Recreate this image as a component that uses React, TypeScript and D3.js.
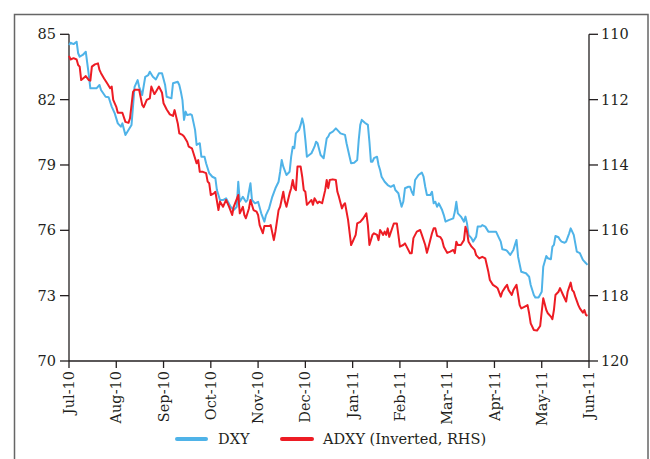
import React from "react";
import * as d3 from "d3";

const dxyDates = ["2010-07-01","2010-07-02","2010-07-04","2010-07-06","2010-07-07","2010-07-08","2010-07-10","2010-07-12","2010-07-13","2010-07-14","2010-07-15","2010-07-19","2010-07-21","2010-07-22","2010-07-25","2010-07-27","2010-07-29","2010-07-31",
"2010-08-02","2010-08-04","2010-08-05","2010-08-07","2010-08-09","2010-08-11","2010-08-13","2010-08-15","2010-08-16","2010-08-18","2010-08-20","2010-08-22","2010-08-23","2010-08-25","2010-08-27","2010-08-29","2010-08-31",
"2010-09-02","2010-09-03","2010-09-06","2010-09-07","2010-09-10","2010-09-11","2010-09-12","2010-09-13","2010-09-14","2010-09-15","2010-09-16","2010-09-18","2010-09-19","2010-09-21","2010-09-22","2010-09-24","2010-09-25","2010-09-27","2010-09-28","2010-09-30",
"2010-10-02","2010-10-04","2010-10-05","2010-10-07","2010-10-09","2010-10-11","2010-10-14","2010-10-16","2010-10-18","2010-10-19","2010-10-20","2010-10-22","2010-10-24","2010-10-25","2010-10-27","2010-10-28","2010-10-30",
"2010-11-01","2010-11-03","2010-11-05","2010-11-06","2010-11-08","2010-11-10","2010-11-12","2010-11-14","2010-11-15","2010-11-16","2010-11-17","2010-11-19","2010-11-21","2010-11-22","2010-11-23","2010-11-24","2010-11-25","2010-11-27","2010-11-28","2010-11-29","2010-11-30",
"2010-12-01","2010-12-02","2010-12-05","2010-12-07","2010-12-08","2010-12-09","2010-12-11","2010-12-13","2010-12-15","2010-12-16","2010-12-17","2010-12-19","2010-12-21","2010-12-23","2010-12-24","2010-12-27","2010-12-28","2010-12-30","2010-12-31",
"2011-01-02","2011-01-04","2011-01-05","2011-01-06","2011-01-07","2011-01-09","2011-01-11","2011-01-12","2011-01-13","2011-01-14","2011-01-15","2011-01-17","2011-01-18","2011-01-19","2011-01-20","2011-01-22","2011-01-24","2011-01-26","2011-01-28","2011-01-29","2011-01-31",
"2011-02-01","2011-02-02","2011-02-03","2011-02-04","2011-02-06","2011-02-07","2011-02-08","2011-02-09","2011-02-10","2011-02-12","2011-02-14","2011-02-15","2011-02-16","2011-02-17","2011-02-19","2011-02-20","2011-02-21","2011-02-22","2011-02-23","2011-02-24","2011-02-26","2011-02-27","2011-02-28",
"2011-03-02","2011-03-05","2011-03-06","2011-03-07","2011-03-08","2011-03-10","2011-03-12","2011-03-13","2011-03-14","2011-03-15","2011-03-17","2011-03-18","2011-03-20","2011-03-21","2011-03-23","2011-03-24","2011-03-26","2011-03-28","2011-03-30",
"2011-04-02","2011-04-04","2011-04-05","2011-04-06","2011-04-08","2011-04-09","2011-04-11","2011-04-13","2011-04-14","2011-04-15","2011-04-16","2011-04-18","2011-04-20","2011-04-21","2011-04-23","2011-04-24","2011-04-26","2011-04-27","2011-04-29",
"2011-05-01","2011-05-02","2011-05-04","2011-05-05","2011-05-07","2011-05-08","2011-05-09","2011-05-10","2011-05-12","2011-05-13","2011-05-14","2011-05-16","2011-05-17","2011-05-19","2011-05-20","2011-05-21","2011-05-22","2011-05-24","2011-05-26","2011-05-28","2011-05-30","2011-05-31"];

const dxyValues = [84.51,84.61,84.55,84.66,84.13,83.97,84.05,84.20,83.67,83.13,82.52,82.52,82.67,82.44,82.13,82.11,81.68,81.37,
80.91,80.76,80.91,80.38,80.61,80.84,82.59,82.90,82.59,82.21,83.05,83.13,83.28,83.05,82.93,83.21,83.21,
82.67,82.13,82.06,82.75,82.82,82.67,82.36,81.98,81.07,81.45,81.29,81.33,81.29,80.61,79.92,80.00,79.38,79.38,79.08,78.62,
78.46,78.39,77.85,77.39,77.39,77.47,77.08,76.93,77.08,78.23,77.31,77.54,77.31,77.39,78.16,77.39,77.24,
77.31,76.78,76.40,76.70,77.01,77.54,77.93,78.23,78.69,79.23,78.92,78.54,78.69,79.38,79.84,79.77,80.45,80.61,80.84,81.14,80.84,
80.15,79.38,79.54,79.84,80.07,80.00,79.46,79.31,80.22,80.30,80.45,80.53,80.68,80.53,80.45,80.38,80.00,79.38,79.08,
79.10,79.23,80.15,80.84,81.07,80.94,80.84,80.07,79.15,79.15,79.31,79.38,79.00,78.77,78.46,78.23,78.08,78.00,78.08,77.85,77.70,
77.39,77.08,77.31,77.93,78.00,78.00,77.77,77.62,78.31,78.54,78.65,78.46,78.00,77.62,77.62,77.77,77.24,77.31,77.08,77.24,76.93,76.70,76.40,
76.47,76.55,76.85,77.31,76.78,76.63,76.40,76.63,76.32,75.79,75.63,75.48,75.71,76.17,76.17,76.24,76.17,75.94,75.94,
75.94,75.63,75.48,75.13,75.10,75.06,74.87,75.10,75.33,75.56,74.79,74.10,74.05,74.03,73.87,73.49,73.03,72.91,72.92,
73.18,74.33,74.82,74.72,74.67,75.25,75.33,75.74,75.68,75.56,75.48,75.43,75.48,75.86,76.09,75.94,75.79,75.02,74.95,74.64,74.49,74.41];

const adxyDates = ["2010-07-01","2010-07-02","2010-07-04","2010-07-06","2010-07-07","2010-07-08","2010-07-09","2010-07-11","2010-07-12","2010-07-14","2010-07-15","2010-07-16","2010-07-18","2010-07-20","2010-07-21","2010-07-22","2010-07-24","2010-07-26","2010-07-28","2010-07-29","2010-07-30",
"2010-08-01","2010-08-02","2010-08-05","2010-08-07","2010-08-09","2010-08-10","2010-08-12","2010-08-13","2010-08-16","2010-08-18","2010-08-19","2010-08-21","2010-08-23","2010-08-24","2010-08-26","2010-08-27","2010-08-29","2010-08-31",
"2010-09-01","2010-09-03","2010-09-05","2010-09-07","2010-09-08","2010-09-09","2010-09-10","2010-09-11","2010-09-13","2010-09-14","2010-09-16","2010-09-17","2010-09-19","2010-09-20","2010-09-22","2010-09-23","2010-09-24","2010-09-26","2010-09-28","2010-09-29","2010-09-30",
"2010-10-01","2010-10-03","2010-10-04","2010-10-06","2010-10-07","2010-10-09","2010-10-11","2010-10-13","2010-10-15","2010-10-16","2010-10-19","2010-10-20","2010-10-22","2010-10-23","2010-10-24","2010-10-26","2010-10-27","2010-10-29","2010-10-31",
"2010-11-01","2010-11-02","2010-11-04","2010-11-05","2010-11-08","2010-11-09","2010-11-11","2010-11-12","2010-11-14","2010-11-15","2010-11-17","2010-11-18","2010-11-19","2010-11-20","2010-11-21","2010-11-22","2010-11-23","2010-11-24","2010-11-25","2010-11-26","2010-11-28","2010-11-29","2010-11-30",
"2010-12-01","2010-12-02","2010-12-04","2010-12-05","2010-12-06","2010-12-07","2010-12-09","2010-12-10","2010-12-12","2010-12-14","2010-12-15","2010-12-16","2010-12-17","2010-12-19","2010-12-21","2010-12-22","2010-12-23","2010-12-25","2010-12-26","2010-12-27","2010-12-29","2010-12-31",
"2011-01-01","2011-01-03","2011-01-04","2011-01-06","2011-01-08","2011-01-10","2011-01-11","2011-01-12","2011-01-14","2011-01-15","2011-01-17","2011-01-18","2011-01-19","2011-01-21","2011-01-22","2011-01-23","2011-01-24","2011-01-25","2011-01-28","2011-01-30","2011-01-31",
"2011-02-01","2011-02-03","2011-02-04","2011-02-05","2011-02-07","2011-02-08","2011-02-09","2011-02-11","2011-02-13","2011-02-14","2011-02-16","2011-02-17","2011-02-18","2011-02-20","2011-02-21","2011-02-22","2011-02-23","2011-02-25","2011-02-26","2011-02-27",
"2011-03-01","2011-03-03","2011-03-05","2011-03-06","2011-03-07","2011-03-08","2011-03-10","2011-03-12","2011-03-13","2011-03-14","2011-03-15","2011-03-17","2011-03-19","2011-03-20","2011-03-22","2011-03-24","2011-03-26","2011-03-28","2011-03-29","2011-03-31",
"2011-04-02","2011-04-03","2011-04-05","2011-04-06","2011-04-08","2011-04-09","2011-04-10","2011-04-12","2011-04-13","2011-04-15","2011-04-16","2011-04-17","2011-04-18","2011-04-20","2011-04-22","2011-04-23","2011-04-24","2011-04-26","2011-04-28","2011-04-30",
"2011-05-01","2011-05-02","2011-05-04","2011-05-05","2011-05-07","2011-05-08","2011-05-09","2011-05-10","2011-05-12","2011-05-13","2011-05-15","2011-05-17","2011-05-18","2011-05-20","2011-05-21","2011-05-22","2011-05-23","2011-05-25","2011-05-26","2011-05-28","2011-05-29","2011-05-30","2011-05-31"];

const adxyValues = [110.66,110.77,110.73,110.77,110.94,110.99,111.40,111.32,111.28,111.40,111.42,110.99,110.92,110.89,111.09,111.19,111.35,111.50,111.65,111.60,112.01,
112.22,112.40,112.40,112.68,112.71,112.57,111.76,111.70,111.70,112.16,112.23,112.01,111.96,111.60,111.83,111.76,111.60,111.79,
112.11,112.30,112.45,112.50,112.32,112.52,112.72,113.03,113.08,113.13,113.29,113.44,113.49,113.64,113.95,113.85,114.21,114.21,114.25,114.51,114.56,
114.92,114.87,114.82,115.38,115.12,115.28,115.07,115.28,115.53,115.28,114.92,115.48,115.28,115.53,115.63,115.33,115.07,115.38,115.43,
115.53,115.84,116.09,115.87,115.87,115.84,116.30,116.04,115.38,115.28,114.82,115.12,115.28,115.07,114.87,114.71,114.46,114.71,114.77,114.05,114.05,114.36,114.77,
114.82,115.22,115.12,115.07,115.22,115.02,115.17,115.12,115.17,114.77,114.46,114.71,114.46,114.44,114.46,114.82,114.97,115.33,115.22,115.17,115.68,116.45,
116.35,116.14,115.79,115.74,115.63,115.48,115.84,116.45,116.14,116.09,116.14,116.30,115.99,116.14,116.04,116.14,115.94,116.20,115.79,115.79,116.14,
116.50,116.45,116.40,116.50,116.70,116.70,116.24,116.04,115.99,116.14,116.45,116.69,116.50,116.09,115.94,115.94,116.17,116.21,116.30,116.50,
116.69,116.65,116.60,116.70,116.35,116.45,116.45,116.30,115.89,116.04,116.35,116.50,116.60,116.76,116.86,116.81,116.86,117.27,117.52,117.67,
117.73,117.77,118.03,117.88,117.73,117.67,117.83,117.98,117.83,117.67,117.98,118.29,118.39,118.34,118.29,118.54,118.85,119.05,119.07,118.93,
118.49,118.08,118.44,118.54,118.64,118.72,118.44,117.98,117.88,117.77,117.98,118.18,117.88,117.60,117.83,117.88,118.03,118.29,118.39,118.52,118.44,118.59,118.62];

const leftTicks = [70, 73, 76, 79, 82, 85];
const rightTicks = [110, 112, 114, 116, 118, 120];
const seriesNames = ["DXY", "ADXY (Inverted, RHS)"];
const seriesColors = ["#4fb3e8", "#ed1c24"];

const FONT = "'DejaVu Serif', serif";

export default function App() {
  const parse = d3.timeParse("%Y-%m-%d");
  const start = new Date(2010, 6, 1);
  const end = new Date(2011, 5, 1);
  const months = d3.timeMonth.range(start, d3.timeDay.offset(end, 1));
  const monthPos = (d: Date) => {
    const m0 = d3.timeMonth.floor(d);
    const m1 = d3.timeMonth.offset(m0, 1);
    return d3.timeMonth.count(start, m0) + (+d - +m0) / (+m1 - +m0);
  };

  const left = 69, right = 589, top = 34.3, bottom = 361;
  const x = d3.scaleLinear().domain([0, months.length - 1]).range([left, right]);
  const yL = d3.scaleLinear().domain([70, 85]).range([bottom, top]);
  const yR = d3.scaleLinear().domain([120, 110]).range([bottom, top]);

  const dxy = dxyDates.map((s, i) => ({ d: parse(s) as Date, v: dxyValues[i] }));
  const adxy = adxyDates.map((s, i) => ({ d: parse(s) as Date, v: adxyValues[i] }));

  const lineL = d3.line<{ d: Date; v: number }>().x(p => x(monthPos(p.d))).y(p => yL(p.v));
  const lineR = d3.line<{ d: Date; v: number }>().x(p => x(monthPos(p.d))).y(p => yR(p.v));
  const fmt = d3.timeFormat("%b-%y");
  const axisColor = "#231f20";

  return (
    <svg width={650} height={459} style={{ position: "absolute", left: 0, top: 0, background: "#fff" }}
      fontFamily={FONT}>
      <rect x={14.5} y={14.5} width={633.5} height={470} fill="none" stroke="#666" strokeWidth={1.5} />
      {/* axes */}
      <line x1={left} x2={left} y1={top} y2={bottom} stroke={axisColor} strokeWidth={1.3} />
      <line x1={right} x2={right} y1={top} y2={bottom} stroke={axisColor} strokeWidth={1.3} />
      <line x1={left} x2={right} y1={bottom} y2={bottom} stroke={axisColor} strokeWidth={1.3} />
      {leftTicks.map(t => (
        <g key={"l" + t}>
          <line x1={left - 9} x2={left} y1={yL(t)} y2={yL(t)} stroke={axisColor} strokeWidth={1.3} />
          <text x={left - 13} y={yL(t)} dy="0.35em" textAnchor="end" fontSize={14.5} fill="#231f20">{t}</text>
        </g>
      ))}
      {rightTicks.map(t => (
        <g key={"r" + t}>
          <line x1={right} x2={right + 9} y1={yR(t)} y2={yR(t)} stroke={axisColor} strokeWidth={1.3} />
          <text x={right + 12} y={yR(t)} dy="0.35em" textAnchor="start" fontSize={14.5} fill="#231f20">{t}</text>
        </g>
      ))}
      {months.map((m, i) => (
        <g key={"m" + i}>
          <line x1={x(i)} x2={x(i)} y1={bottom} y2={bottom + 7} stroke={axisColor} strokeWidth={1.3} />
          <text transform={`translate(${x(i)},${bottom + 10}) rotate(-90)`} dy="0.35em" textAnchor="end"
            fontSize={14.5} fill="#231f20">{fmt(m)}</text>
        </g>
      ))}
      <path d={lineL(dxy) || ""} fill="none" stroke={seriesColors[0]} strokeWidth={2} strokeLinejoin="round" />
      <path d={lineR(adxy) || ""} fill="none" stroke={seriesColors[1]} strokeWidth={2} strokeLinejoin="round" />
      {/* legend */}
      <line x1={177} x2={206} y1={439} y2={439} stroke={seriesColors[0]} strokeWidth={4} strokeLinecap="round" />
      <text x={218} y={439} dy="0.35em" fontSize={14.5} fill="#231f20">{seriesNames[0]}</text>
      <line x1={282} x2={312} y1={439} y2={439} stroke={seriesColors[1]} strokeWidth={4} strokeLinecap="round" />
      <text x={323} y={439} dy="0.35em" fontSize={14.5} fill="#231f20">{seriesNames[1]}</text>
    </svg>
  );
}
